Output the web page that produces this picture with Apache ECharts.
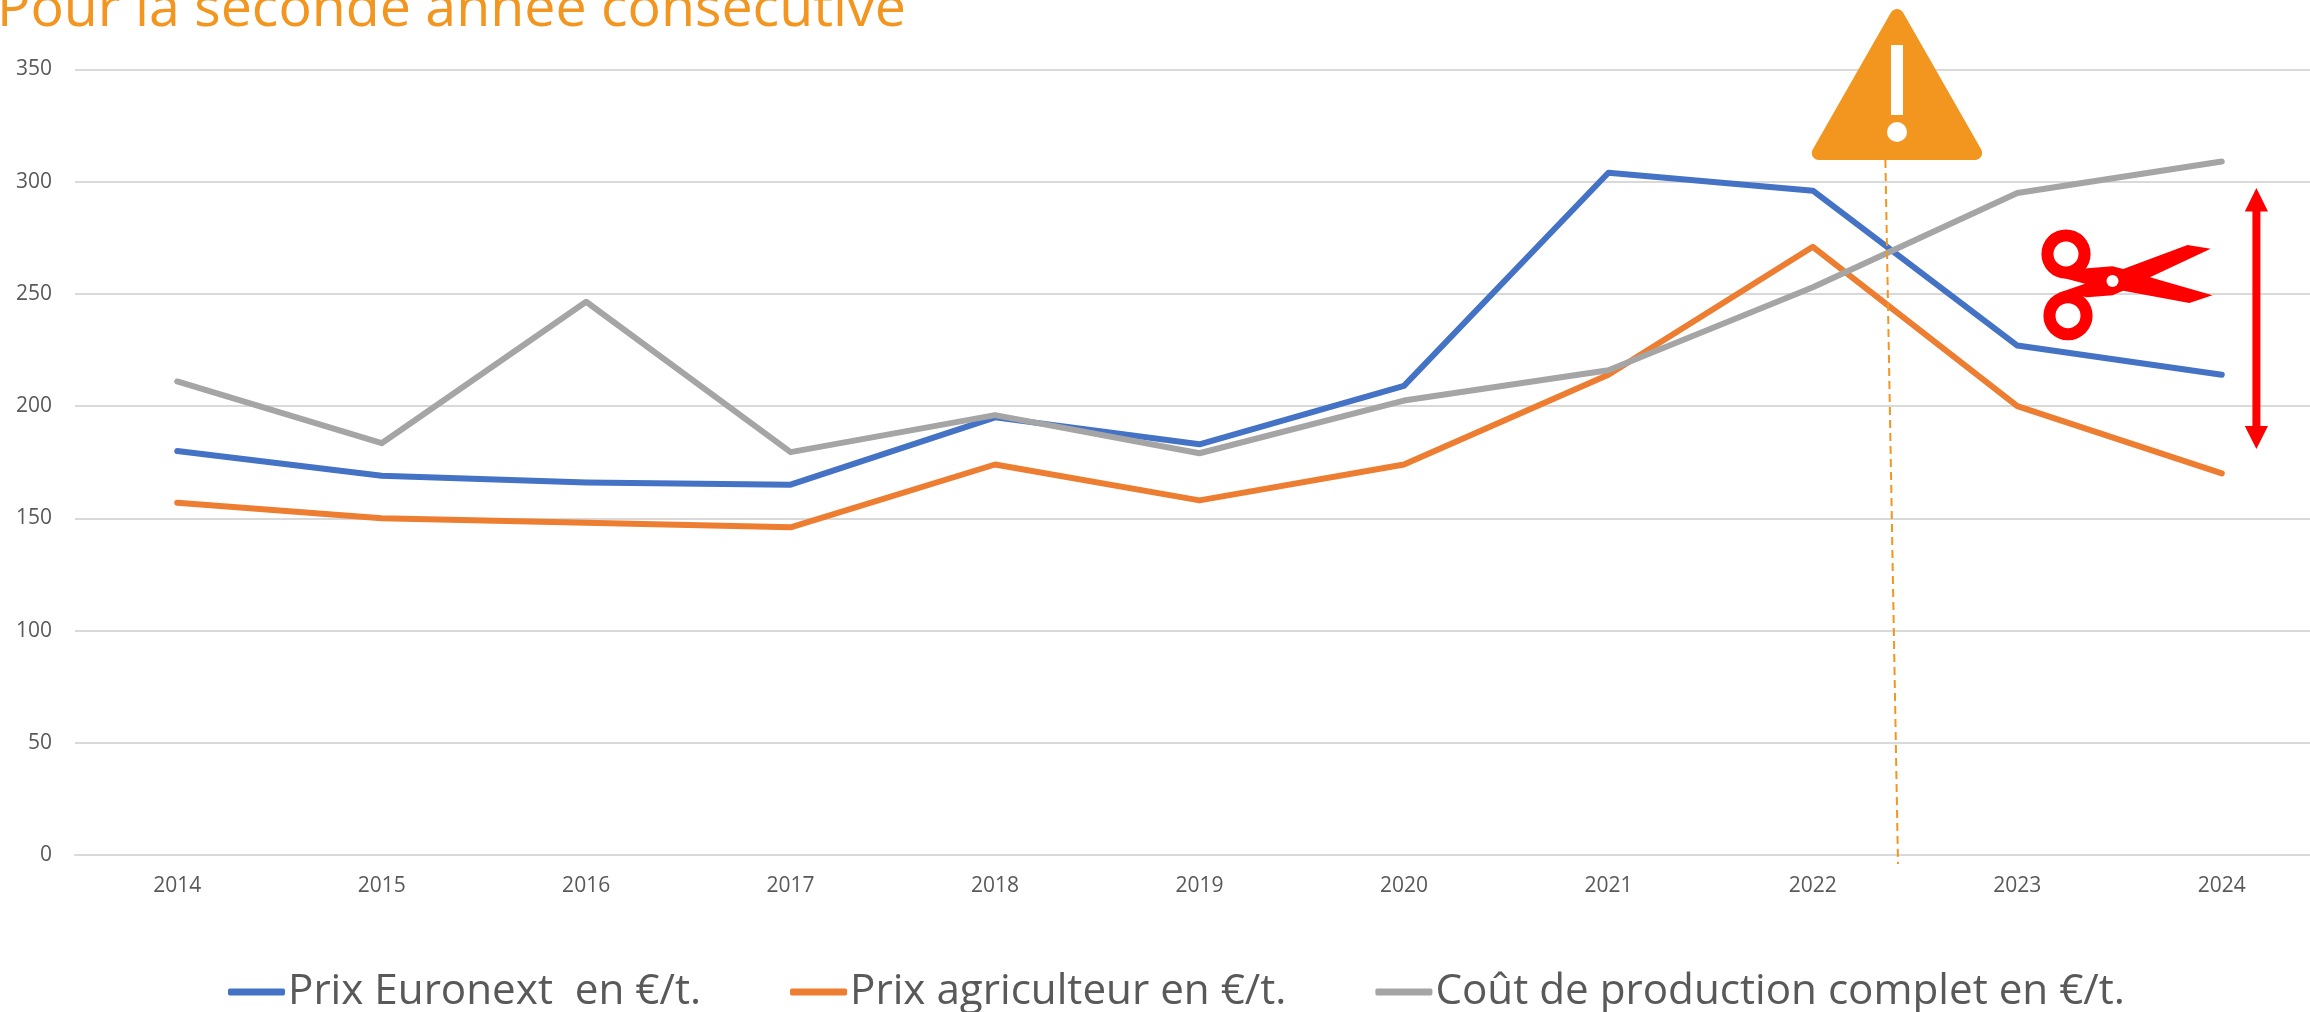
<!DOCTYPE html>
<html>
<head>
<meta charset="utf-8">
<style>
html, body { margin: 0; padding: 0; background: #fff; }
#main { width: 2310px; height: 1012px; }
</style>
<script src="https://cdn.jsdelivr.net/npm/echarts@6/dist/echarts.min.js"></script>
</head>
<body>
<div id="main"></div>
<script>
const years = ['2014', '2015', '2016', '2017', '2018', '2019', '2020', '2021', '2022', '2023', '2024'];
const euronext = [180, 169, 166, 165, 195, 183, 209, 304, 296, 227, 214];
const agriculteur = [157, 150, 148, 146, 174, 158, 174, 214, 271, 200, 170];
const cout = [211, 183.5, 246.5, 179.5, 196, 179, 202.5, 216, 253, 295, 309];

const font = '"Open Sans"';
const grey = '#595959';
const red = '#FF0000';
const warn = '#F29620';

const sc = (x, y) => [1750 + x / 2.8, y / 3];
const scissors = [[945, 805], [1015, 799], [1045, 807], [1225, 735], [1290, 746], [1120, 832], [1295, 886], [1230, 909],
	[1045, 872], [1015, 886], [945, 892], [865, 878], [938, 851], [865, 830]].map(p => sc(p[0], p[1]));

const chart = echarts.init(document.getElementById('main'));

function lineSeries(name, data, color) {
	return {
		name: name,
		type: 'line',
		data: data,
		symbol: 'none',
		lineStyle: { color: color, width: 6, cap: 'round', join: 'round' },
		itemStyle: { color: color }
	};
}

chart.setOption({
	animation: false,
	backgroundColor: '#fff',
	title: {
		text: 'Pour la seconde année consécutive',
		left: -3,
		top: -18,
		padding: 0,
		textStyle: { color: warn, fontFamily: font, fontSize: 55.5, fontWeight: 'normal' }
	},
	grid: { left: 75, top: 69.5, width: 2249, height: 785.5, outerBoundsMode: 'none' },
	legend: {
		left: 228,
		top: 971,
		padding: 0,
		icon: 'roundRect',
		itemWidth: 57,
		itemHeight: 7,
		itemGap: 89,
		textStyle: { color: grey, fontFamily: font, fontSize: 42.2, padding: [0, 0, 0, -2] }
	},
	xAxis: {
		type: 'category',
		data: years,
		axisLine: { lineStyle: { color: '#D9D9D9', width: 2 } },
		axisTick: { show: false },
		axisLabel: { color: grey, fontFamily: font, fontSize: 21, margin: 21 }
	},
	yAxis: {
		type: 'value',
		min: 0,
		max: 350,
		interval: 50,
		axisLine: { show: false },
		axisTick: { show: false },
		axisLabel: { color: grey, fontFamily: font, fontSize: 21, margin: 23 },
		splitLine: { lineStyle: { color: '#D9D9D9', width: 2 } }
	},
	series: [
		lineSeries('Prix Euronext  en €/t.', euronext, '#4472C4'),
		lineSeries('Prix agriculteur en €/t.', agriculteur, '#ED7D31'),
		lineSeries('Coût de production complet en €/t.', cout, '#A5A5A5')
	],
	graphic: { elements: [
		// pointillé sous le triangle
		{ type: 'line', z: 50, shape: { x1: 1885.4, y1: 160, x2: 1898, y2: 864 }, style: { stroke: warn, lineWidth: 2, lineDash: [8, 5] } },
		// triangle
		{ type: 'polygon', z: 51, shape: { points: [[1897, 16], [1975.2, 153], [1818.8, 153]] }, style: { fill: warn, stroke: warn, lineWidth: 14, lineJoin: 'round' } },
		{ type: 'rect', z: 52, shape: { x: 1891, y: 45, width: 12, height: 70 }, style: { fill: '#fff' } },
		{ type: 'circle', z: 52, shape: { cx: 1897, cy: 132, r: 10 }, style: { fill: '#fff' } },
		// ciseaux
		{ type: 'polygon', z: 51, shape: { points: scissors }, style: { fill: red } },
		{ type: 'ring', z: 51, shape: { cx: 2066, cy: 254, r: 24.6, r0: 12.5 }, style: { fill: red } },
		{ type: 'ring', z: 51, shape: { cx: 2068, cy: 315.7, r: 24.6, r0: 12.5 }, style: { fill: red } },
		{ type: 'circle', z: 52, shape: { cx: 2112.5, cy: 281, r: 6 }, style: { fill: '#fff' } },
		// double flèche
		{ type: 'polygon', z: 51, shape: { points: [[2256.4, 188], [2268, 211.5], [2260.4, 211.5], [2260.4, 426], [2268, 426], [2256.4, 449], [2244.8, 426], [2252.4, 426], [2252.4, 211.5], [2244.8, 211.5]] }, style: { fill: red } }
	] }
});
</script>
</body>
</html>
